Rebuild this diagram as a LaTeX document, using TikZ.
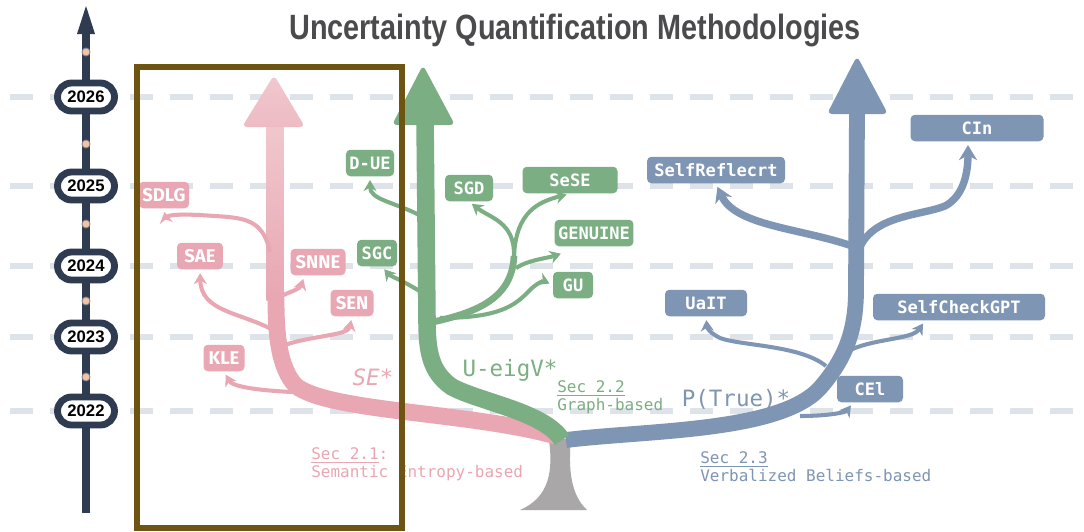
\documentclass[tikz,border=0pt]{standalone}
\usepackage{fontspec}
\usepackage{graphicx}
\usetikzlibrary{arrows.meta}

\newfontfamily\titlefont{Liberation Sans}
\newfontfamily\codefont{DejaVu Sans Mono}
\newfontfamily\boxfont{Fira Sans}

\definecolor{sepink}{HTML}{E8A7B2}
\definecolor{sepinklight}{HTML}{F1C8CF}
\definecolor{graphgreen}{HTML}{7BAE82}
\definecolor{beliefblue}{HTML}{7F95B4}
\definecolor{tlnavy}{HTML}{2F3B50}
\definecolor{peach}{HTML}{F3C3A3}
\definecolor{gridgray}{HTML}{DEE2E9}
\definecolor{trunkgray}{HTML}{A9A7A7}
\definecolor{framebrown}{HTML}{6D5411}
\definecolor{titlegray}{HTML}{4B4B4D}

\begin{document}
\begin{tikzpicture}[x=0.02cm, y=-0.02cm,
  gridline/.style={gridgray, line width=3.4pt, dash pattern=on 0.46cm off 0.34cm},
  yearpill/.style={draw=tlnavy, line width=3.9pt, fill=white, rounded corners=0.28cm,
    minimum width=1.14cm, minimum height=0.56cm, inner sep=0pt,
    font=\titlefont\bfseries\fontsize{9.5}{10}\selectfont},
  yeardot/.style={circle, fill=peach, draw=tlnavy!60, line width=0.5pt, minimum size=0.16cm, inner sep=0pt},
  method/.style={rounded corners=2.5pt, text=white, minimum height=0.53cm, inner sep=2pt,
    font=\codefont\bfseries\fontsize{9.7}{10}\selectfont},
  pinkbox/.style={method, fill=sepink, font=\boxfont\bfseries\fontsize{10.5}{11}\selectfont},
  greenbox/.style={method, fill=graphgreen},
  bluebox/.style={method, fill=beliefblue},
  twig/.style={line width=2.3pt, shorten >=2pt, -{Stealth[length=2.2mm, width=2.6mm]}},
  bough/.style={line width=4.2pt, shorten >=2pt, -{Stealth[length=3mm, width=3.6mm]}},
  famlabel/.style={font=\codefont\fontsize{12.8}{14}\selectfont},
  seclabel/.style={font=\codefont\fontsize{9.1}{10.2}\selectfont, align=left, anchor=west, inner sep=0pt},
]

% fond
\useasboundingbox (0,0) rectangle (1084,531);
\fill[white] (0,0) rectangle (1084,531);
\foreach \yy in {97,186,266,337,411}
  \draw[gridline] (10,\yy) -- (1084,\yy);

% titre
\node[text=titlegray, font=\titlefont\bfseries\fontsize{20}{22}\selectfont] (title) at (575,30)
  {\scalebox{0.82}[1]{Uncertainty Quantification Methodologies}};

% axe du temps
\draw[tlnavy, line width=4.5pt] (86,513) -- (86,30);
\fill[tlnavy] (86,6) -- (77,34) -- (95,34) -- cycle;
\foreach \yy in {52,144,224,301,377}
  \node[yeardot] (dot\yy) at (86,\yy) {};
\node[yearpill] (y2026) at (86,97) {2026};
\node[yearpill] (y2025) at (86,186) {2025};
\node[yearpill] (y2024) at (86,266) {2024};
\node[yearpill] (y2023) at (86,337) {2023};
\node[yearpill] (y2022) at (86,411) {2022};

% tronc
\fill[trunkgray] (549,440) .. controls (553,470) and (550,497) .. (520,510) -- (587,510)
  .. controls (571,495) and (568,470) .. (571,438) -- cycle;

% branche rose (SE)
\draw[sepink, line width=9.6pt] (556,436) .. controls (470,412) and (330,412) .. (296,386)
  .. controls (279,368) and (276,335) .. (276,300) -- (275,296);
\shade[top color=sepinklight, bottom color=sepink] (266.5,118) rectangle (283.5,300);
\shade[top color=sepinklight, bottom color=sepinklight!60!sepink, rounded corners=3pt]
  (274,75) -- (242,127) -- (305,127) -- cycle;

% branche bleue (verbalized)
\draw[beliefblue, line width=9pt] (566,440) .. controls (650,430) and (780,432) .. (820,388)
  .. controls (846,358) and (856,330) .. (856,290) -- (857,108);
\fill[beliefblue, rounded corners=3pt] (857,56) -- (827,114) -- (888,114) -- cycle;

% branche verte (graph)
\draw[graphgreen, line width=10pt] (562,440) .. controls (545,412) and (480,402) .. (452,387)
  .. controls (430,372) and (427,350) .. (427,320) -- (425,118);
\fill[graphgreen, rounded corners=3pt] (423,65) -- (392,125) -- (455,125) -- cycle;

% methodes
\node[pinkbox, minimum width=0.9cm] (SDLG) at (164,195) {SDLG};
\node[pinkbox, minimum width=0.92cm] (SAE) at (200,256) {SAE};
\node[pinkbox, minimum width=1.1cm] (SNNE) at (318,262) {SNNE};
\node[pinkbox, minimum width=0.86cm] (SEN) at (352,303) {SEN};
\node[pinkbox, minimum width=0.82cm] (KLE) at (224,358) {KLE};

\node[greenbox, minimum width=0.92cm] (DUE) at (370,163) {D-UE};
\node[greenbox, minimum width=0.8cm] (SGC) at (377,253) {SGC};
\node[greenbox, minimum width=0.96cm] (SGD) at (469,188) {SGD};
\node[greenbox, minimum width=1.9cm] (SeSE) at (570,180) {SeSE};
\node[greenbox, minimum width=1.56cm] (GENUINE) at (594,233) {GENUINE};
\node[greenbox, minimum width=0.8cm] (GU) at (573,285) {GU};

\node[bluebox, minimum width=2.76cm] (SR) at (716,170) {SelfReflecrt};
\node[bluebox, minimum width=2.66cm] (CIn) at (977,128) {CIn};
\node[bluebox, minimum width=1.64cm] (UaIT) at (706,303) {UaIT};
\node[bluebox, minimum width=3.44cm] (SCG) at (959,307) {SelfCheckGPT};
\node[bluebox, minimum width=1.32cm] (CEl) at (870,389) {CEl};

% rameaux roses
\coordinate (kleroot) at (292,392);
\coordinate (saeroot) at (273,330);
\coordinate (sdlgroot) at (270,252);
\coordinate (snneroot) at (279,297);
\coordinate (senroot) at (282,346);
\draw[twig, sepink] (kleroot) .. controls (252,390) and (232,386) .. (KLE.south);
\draw[twig, sepink] (saeroot) .. controls (240,312) and (201,312) .. (SAE.south);
\draw[twig, sepink] (sdlgroot) .. controls (262,215) and (240,218) .. (200,215)
  .. controls (175,214) and (165,215) .. (SDLG.south);
\draw[twig, sepink] (snneroot) .. controls (292,291) and (300,289) .. (SNNE.225);
\draw[twig, sepink] (senroot) .. controls (312,335) and (348,336) .. (SEN.south);

% rameaux verts
\coordinate (dueroot) at (421,216);
\coordinate (sgcroot) at (421,292);
\coordinate (groot) at (433,322);
\coordinate (gsplit) at (514,256);
\coordinate (genroot) at (516,268);
\coordinate (guroot) at (440,318);
\draw[twig, graphgreen] (dueroot) .. controls (395,202) and (370,200) .. (DUE.south);
\draw[twig, graphgreen] (sgcroot) .. controls (402,280) and (390,276) .. (SGC.-70);
\draw[graphgreen, line width=3.8pt] (groot) .. controls (478,312) and (512,298) .. (gsplit);
\draw[twig, graphgreen] (gsplit) .. controls (515,222) and (490,218) .. (SGD.south);
\draw[twig, graphgreen] (gsplit) .. controls (516,212) and (538,202) .. (SeSE.south);
\draw[twig, graphgreen] (genroot) .. controls (528,260) and (548,258) .. ([xshift=0.2cm, yshift=-0.12cm]GENUINE.south west);
\draw[twig, graphgreen] (guroot) .. controls (500,318) and (515,305) .. (528,292)
  .. controls (536,283) and (544,281) .. (GU.west);

% rameaux bleus
\coordinate (uaitroot) at (826,366);
\coordinate (scgroot) at (846,352);
\coordinate (celroot) at (800,416);
\coordinate (srroot) at (852,246);
\coordinate (cinroot) at (858,252);
\draw[twig, beliefblue] (uaitroot) .. controls (800,345) and (742,346) .. (720,338)
  .. controls (710,333) and (707,328) .. (UaIT.south);
\draw[twig, beliefblue] (scgroot) .. controls (872,338) and (912,340) .. ([xshift=-0.68cm]SCG.south);
\draw[twig, beliefblue] (celroot) .. controls (830,416) and (846,412) .. ([xshift=-0.34cm]CEl.south);
\draw[bough, beliefblue] (srroot) .. controls (800,228) and (735,226) .. (SR.south);
\draw[bough, beliefblue] (cinroot) .. controls (870,215) and (920,216) .. (945,206)
  .. controls (964,196) and (968,172) .. ([xshift=-0.18cm]CIn.south);

% familles
\node[famlabel, text=sepink, font=\codefont\itshape\fontsize{12.8}{14}\selectfont] (selabel) at (373,377) {SE*};
\node[famlabel, text=graphgreen] (ueigv) at (510,370) {U-eigV*};
\node[famlabel, text=beliefblue] (ptrue) at (736,399) {P(True)*};

\node[seclabel, text=sepink] (sec21) at (311,464) {\underline{Sec 2.1}:\\Semantic Entropy-based};
\node[seclabel, text=graphgreen] (sec22) at (557,397) {\underline{Sec 2.2}\\Graph-based};
\node[seclabel, text=beliefblue] (sec23) at (700,467) {\underline{Sec 2.3}\\Verbalized Beliefs-based};

% cadre
\draw[framebrown, line width=2.9pt] (137,67) rectangle (402,528);

\end{tikzpicture}
\end{document}
